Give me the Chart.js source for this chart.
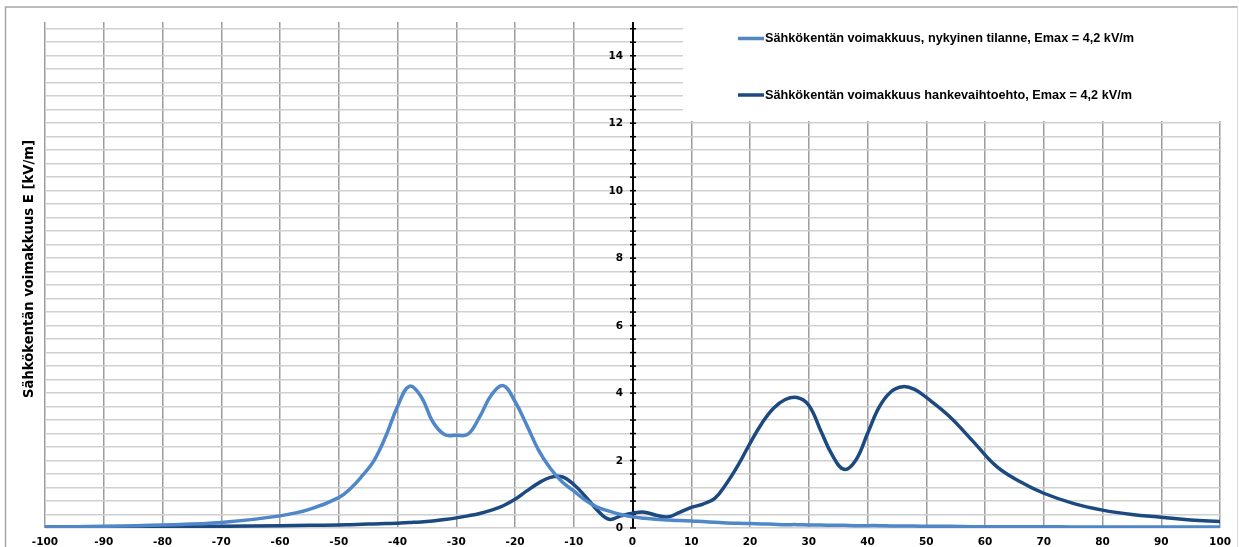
<!DOCTYPE html>
<html>
<head>
<meta charset="utf-8">
<script src="https://cdn.jsdelivr.net/npm/chart.js@4/dist/chart.umd.min.js"></script>
<style>
  html, body { margin: 0; padding: 0; background: #ffffff; }
  #wrap { position: relative; width: 1239px; height: 547px; }
</style>
</head>
<body>
<div id="wrap"><canvas id="c" width="1239" height="547"></canvas></div>
<script>
// Distance from the line centre [m]
const distances = [-100, -90, -80, -70, -60, -55, -50, -48, -46, -44, -42, -40, -38, -36, -34, -32, -30,
  -28, -26, -24, -22, -20, -18, -16, -14, -12, -10, -8, -6, -4, -2, 0, 2, 4, 6, 8, 10, 12, 14,
  16, 18, 20, 22, 24, 26, 28, 30, 32, 34, 36, 38, 40, 42, 44, 46, 48, 50, 54, 58, 62, 66, 70,
  75, 80, 85, 90, 95, 100];

// Electric field strength, present situation [kV/m]
const fieldPresent = [0.03, 0.05, 0.09, 0.16, 0.36, 0.55, 0.9, 1.17, 1.55, 2.0, 2.72, 3.6, 4.2, 3.9,
  3.15, 2.77, 2.75, 2.78, 3.3, 3.95, 4.22, 3.75, 3.05, 2.31, 1.77, 1.37, 1.1, 0.82, 0.62, 0.5,
  0.4, 0.33, 0.29, 0.26, 0.24, 0.22, 0.21, 0.19, 0.17, 0.15, 0.14, 0.13, 0.12, 0.11, 0.1, 0.1,
  0.09, 0.09, 0.08, 0.08, 0.07, 0.07, 0.07, 0.06, 0.06, 0.06, 0.05, 0.05, 0.04, 0.04, 0.04,
  0.04, 0.03, 0.03, 0.03, 0.03, 0.03, 0.03];

// Electric field strength, project alternative [kV/m]
const fieldProject = [0.03, 0.03, 0.04, 0.05, 0.07, 0.08, 0.09, 0.1, 0.11, 0.12, 0.13, 0.14, 0.16,
  0.18, 0.21, 0.25, 0.3, 0.36, 0.43, 0.53, 0.66, 0.85, 1.1, 1.33, 1.5, 1.52, 1.29, 0.93, 0.53,
  0.26, 0.36, 0.44, 0.47, 0.38, 0.33, 0.46, 0.61, 0.71, 0.88, 1.32, 1.87, 2.51, 3.1, 3.55, 3.81,
  3.87, 3.64, 2.9, 2.16, 1.74, 2.01, 2.8, 3.59, 4.04, 4.19, 4.11, 3.87, 3.3, 2.56, 1.82, 1.37,
  1.03, 0.73, 0.53, 0.4, 0.32, 0.24, 0.19];

const seriesNames = [
  'Sähkökentän voimakkuus, nykyinen tilanne, Emax = 4,2 kV/m',
  'Sähkökentän voimakkuus hankevaihtoehto, Emax = 4,2 kV/m'
];
const seriesColors = ['#4f87c8', '#1c4a80'];
const yTitle = 'Sähkökentän voimakkuus E [kV/m]';

const xMin = -100, xMax = 100, xStep = 10;
const yMin = 0, yMax = 15, yStep = 0.4, yLabelEvery = 2;

const tickFont = 'bold 10.5px "DejaVu Sans", Verdana, sans-serif';
const toPoints = (vals) => distances.map((d, i) => ({ x: d, y: vals[i] }));
const yLabel = (v) => {
  const k = v / yLabelEvery;
  return Math.abs(k - Math.round(k)) < 1e-6 ? String(Math.round(v)) : '';
};

// Outer frame, legend panel, value axis at x = 0 and rotated axis title
const decorations = {
  id: 'decorations',
  beforeDraw(chart) {
    const ctx = chart.ctx;
    ctx.save();
    ctx.fillStyle = '#ffffff';
    ctx.fillRect(0, 0, chart.width, chart.height);
    ctx.strokeStyle = '#a6a6a6';
    ctx.lineWidth = 1.5;
    ctx.beginPath();
    ctx.moveTo(5.5, chart.height + 2);
    ctx.lineTo(5.5, 7);
    ctx.lineTo(1238, 7);
    ctx.stroke();
    ctx.strokeStyle = '#d9d9d9';
    ctx.lineWidth = 1;
    ctx.beginPath();
    ctx.moveTo(1237.5, 7);
    ctx.lineTo(1237.5, chart.height + 2);
    ctx.stroke();
    ctx.restore();
  },
  beforeDatasetsDraw(chart) {
    const ctx = chart.ctx;
    const area = chart.chartArea;
    const xs = chart.scales.x, ys = chart.scales.y;
    ctx.save();
    // legend panel
    ctx.fillStyle = '#ffffff';
    ctx.fillRect(683, area.top - 2, 1237 - 683, 121 - area.top + 2);

    // value axis line at x = 0, small ticks and labels
    const ax = Math.round(xs.getPixelForValue(0));
    ctx.strokeStyle = '#000000';
    ctx.lineWidth = 2;
    ctx.beginPath();
    ctx.moveTo(ax, area.top);
    ctx.lineTo(ax, area.bottom);
    ctx.stroke();
    ctx.lineWidth = 1.5;
    ctx.font = tickFont;
    ctx.fillStyle = '#000000';
    ctx.textAlign = 'right';
    ctx.textBaseline = 'middle';
    for (const t of ys.ticks) {
      const py = ys.getPixelForValue(t.value);
      ctx.beginPath();
      ctx.moveTo(ax - 3, py);
      ctx.lineTo(ax + 3, py);
      ctx.stroke();
      const lbl = yLabel(t.value);
      if (lbl) ctx.fillText(lbl, ax - 10, py + 0.5);
    }

    // legend entries
    ctx.font = 'bold 12.7px "Liberation Sans", Arial, sans-serif';
    ctx.textBaseline = 'middle';
    ctx.textAlign = 'left';
    const rows = [38.5, 95];
    seriesNames.forEach((name, i) => {
      ctx.strokeStyle = seriesColors[i];
      ctx.lineWidth = 3.5;
      ctx.beginPath();
      ctx.moveTo(738, rows[i]);
      ctx.lineTo(764, rows[i]);
      ctx.stroke();
      ctx.fillStyle = '#000000';
      ctx.fillText(name, 765, rows[i]);
    });

    // axis title
    ctx.translate(30, 269);
    ctx.rotate(-Math.PI / 2);
    ctx.font = 'bold 13.2px "DejaVu Sans", Verdana, sans-serif';
    ctx.textAlign = 'center';
    ctx.fillStyle = '#000000';
    ctx.fillText(yTitle, 0, 0);
    ctx.restore();
  }
};

new Chart(document.getElementById('c'), {
  type: 'line',
  data: {
    datasets: [
      {
        label: seriesNames[0],
        data: toPoints(fieldPresent),
        borderColor: seriesColors[0],
        borderWidth: 3.5,
        pointRadius: 0,
        fill: false,
        tension: 0.4
      },
      {
        label: seriesNames[1],
        data: toPoints(fieldProject),
        borderColor: seriesColors[1],
        borderWidth: 3.5,
        pointRadius: 0,
        fill: false,
        tension: 0.4
      }
    ]
  },
  options: {
    responsive: false,
    animation: false,
    events: [],
    layout: { padding: { left: 45, right: 18, top: 22, bottom: 0 } },
    plugins: {
      legend: { display: false },
      title: { display: false },
      tooltip: { enabled: false }
    },
    scales: {
      x: {
        type: 'linear',
        min: xMin,
        max: xMax,
        position: 'bottom',
        afterFit: (scale) => { scale.height = 19; },
        ticks: {
          stepSize: xStep,
          color: '#000000',
          padding: 8,
          maxRotation: 0,
          autoSkip: false,
          font: { family: '"DejaVu Sans", Verdana, sans-serif', size: 10.5, weight: 'bold' }
        },
        grid: { color: '#9c9c9c', lineWidth: 1.5, drawTicks: false },
        border: { display: false }
      },
      y: {
        type: 'linear',
        min: yMin,
        max: yMax,
        position: { x: 0 },
        ticks: {
          stepSize: yStep,
          includeBounds: false,
          display: false,
          autoSkip: false
        },
        grid: { color: '#d0d0d0', lineWidth: 1.5, drawTicks: false },
        border: { display: false }
      }
    }
  },
  plugins: [decorations]
});
</script>
</body>
</html>
